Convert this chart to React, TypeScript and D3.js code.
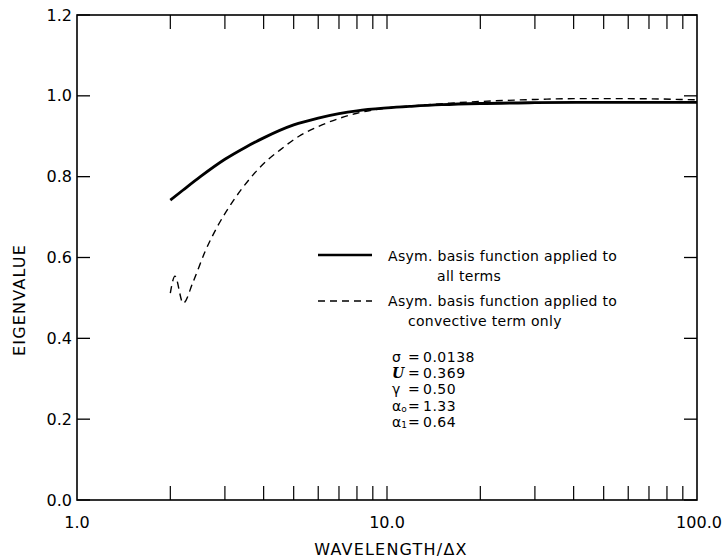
import React from "react";
import * as d3 from "d3";

const solidW = [2, 2.2, 2.5, 3, 3.5, 4, 5, 6, 7, 8, 10, 12, 15, 20, 30, 50, 70, 100];
const solidV = [0.742, 0.767, 0.8, 0.843, 0.873, 0.896, 0.928, 0.945, 0.956, 0.963, 0.97, 0.974, 0.978, 0.981, 0.983, 0.984, 0.984, 0.984];

const dashW = [2.0, 2.07, 2.2, 2.37, 2.59, 2.83, 3.19, 3.61, 4.1, 4.45, 5.2, 6, 7, 8, 10, 13, 16, 20, 30, 40, 60, 100];
const dashV = [0.512, 0.554, 0.487, 0.54, 0.615, 0.675, 0.74, 0.795, 0.84, 0.862, 0.9, 0.924, 0.944, 0.957, 0.97, 0.977, 0.982, 0.986, 0.991, 0.993, 0.993, 0.99];

const yTicks = [0, 0.2, 0.4, 0.6, 0.8, 1.0, 1.2];
const yTickLabels = ["0.0", "0.2", "0.4", "0.6", "0.8", "1.0", "1.2"];
const xMajor = [1, 10, 100];
const xMajorLabels = ["1.0", "10.0", "100.0"];
const xMinor = [2, 3, 4, 5, 6, 7, 8, 9, 10, 20, 30, 40, 50, 60, 70, 80, 90];

const legendLabels = [
  ["Asym. basis function applied to", "all terms"],
  ["Asym. basis function applied to", "convective term only"],
];

const params = [
  { sym: "σ", sub: "", val: "0.0138" },
  { sym: "U", sub: "", val: "0.369" },
  { sym: "γ", sub: "", val: "0.50" },
  { sym: "α", sub: "o", val: "1.33" },
  { sym: "α", sub: "1", val: "0.64" },
];

const W = 722;
const H = 559;
const L = 77, R = 697, T = 15, B = 500;

export default function App() {
  const x = d3.scaleLog().domain([1, 100]).range([L, R]);
  const y = d3.scaleLinear().domain([0, 1.2]).range([B, T]);
  const line = d3
    .line<[number, number]>()
    .x((d) => x(d[0]))
    .y((d) => y(d[1]))
    .curve(d3.curveMonotoneX);
  const solidPts = solidW.map((w, i) => [w, solidV[i]] as [number, number]);
  const dashPts = dashW.map((w, i) => [w, dashV[i]] as [number, number]);
  const font = "'DejaVu Sans', sans-serif";

  return (
    <svg
      width={W}
      height={H}
      style={{ position: "absolute", left: 0, top: 0, background: "#fff" }}
      fontFamily={font}
    >
      <rect x={0} y={0} width={W} height={H} fill="#fff" />
      {/* frame */}
      <rect x={L} y={T} width={R - L} height={B - T} fill="none" stroke="#000" strokeWidth={1.6} />
      {/* y ticks */}
      {yTicks.map((t, i) => (
        <g key={"y" + i}>
          <line x1={L} x2={L + 13} y1={y(t)} y2={y(t)} stroke="#000" strokeWidth={1.3} />
          <line x1={R} x2={R - 13} y1={y(t)} y2={y(t)} stroke="#000" strokeWidth={1.3} />
          <text x={L - 5} y={y(t)} textAnchor="end" dominantBaseline="central" fontSize={16}>
            {yTickLabels[i]}
          </text>
        </g>
      ))}
      {/* x ticks */}
      {xMinor.map((t, i) => (
        <g key={"x" + i}>
          <line x1={x(t)} x2={x(t)} y1={B} y2={B - 14} stroke="#000" strokeWidth={1.2} />
          <line x1={x(t)} x2={x(t)} y1={T} y2={T + 14} stroke="#000" strokeWidth={1.2} />
        </g>
      ))}
      {xMajor.map((t, i) => (
        <text key={"xl" + i} x={x(t) + (i === 2 ? 2 : 0)} y={522} textAnchor="middle" dominantBaseline="central" fontSize={16}>
          {xMajorLabels[i]}
        </text>
      ))}
      {/* axis titles */}
      <text x={391} y={549} textAnchor="middle" dominantBaseline="central" fontSize={16} letterSpacing={1.2}>
        WAVELENGTH/ΔX
      </text>
      <text
        transform="translate(19,300) rotate(-90)"
        textAnchor="middle"
        dominantBaseline="central"
        fontSize={16}
        letterSpacing={1.2}
      >
        EIGENVALUE
      </text>
      {/* curves */}
      <path d={line(solidPts) || ""} fill="none" stroke="#000" strokeWidth={2.8} />
      <path d={line(dashPts) || ""} fill="none" stroke="#000" strokeWidth={1.4} strokeDasharray="7,5" />
      {/* legend */}
      <line x1={318} x2={372} y1={255} y2={255} stroke="#000" strokeWidth={2.4} />
      <line x1={318} x2={372} y1={301} y2={301} stroke="#000" strokeWidth={1.4} strokeDasharray="7,5" />
      <text x={388} y={261} fontSize={14} letterSpacing={0.3}>{legendLabels[0][0]}</text>
      <text x={437} y={281} fontSize={14} letterSpacing={0.3}>{legendLabels[0][1]}</text>
      <text x={388} y={306} fontSize={14} letterSpacing={0.3}>{legendLabels[1][0]}</text>
      <text x={408} y={326} fontSize={14} letterSpacing={0.3}>{legendLabels[1][1]}</text>
      {/* parameters */}
      {params.map((p, i) => {
        const yy = 357 + i * 16.2;
        return (
          <g key={"p" + i}>
            <text
              x={392}
              y={yy}
              dominantBaseline="central"
              fontSize={14}
              fontStyle={p.sym === "U" ? "italic" : "normal"}
              fontWeight={p.sym === "U" ? "bold" : "normal"}
              fontFamily={p.sym === "U" ? "'DejaVu Serif', serif" : font}
            >
              {p.sym}
              {p.sub ? (
                <tspan fontSize={9} dy={3}>{p.sub}</tspan>
              ) : null}
            </text>
            <text x={408} y={yy} dominantBaseline="central" fontSize={14}>
              =
            </text>
            <text x={423} y={yy} dominantBaseline="central" fontSize={14} letterSpacing={0.5}>
              {p.val}
            </text>
          </g>
        );
      })}
    </svg>
  );
}
